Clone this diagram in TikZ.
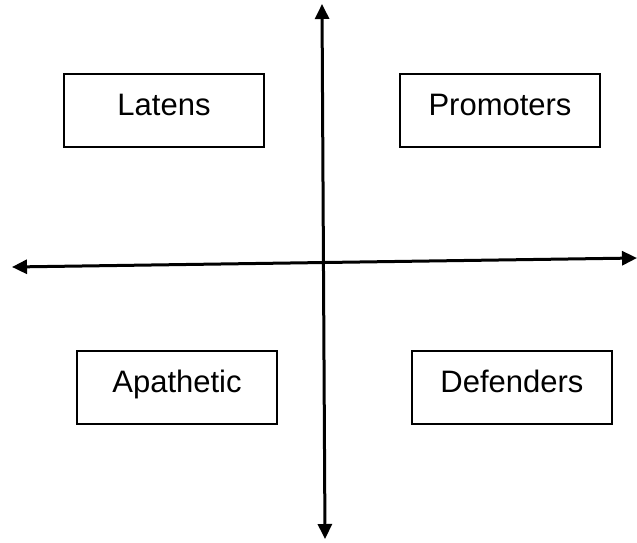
\documentclass[tikz,border=0pt]{standalone}
\usepackage{fontspec}
\setmainfont{Liberation Sans}
\usepackage{tikz}
\usetikzlibrary{arrows.meta}
\tikzset{quad/.style = {draw, line width = 1.6, minimum width = 200, inner sep = 0,
    text height = 41, text depth = 32, font = \fontsize{31}{36}\selectfont}}
\tikzset{axis/.style = {line width = 3, {Triangle[length=15, width=14]}-{Triangle[length=15, width=14]}}}

\begin{document}
\begin{tikzpicture}[x=1pt, y=-1pt]
      \useasboundingbox (0, 0) rectangle (637, 542);
      \coordinate (top) at (322, 4);
      \coordinate (bottom) at (325, 539);
      \coordinate (left) at (12, 267);
      \coordinate (right) at (637, 258);
      \draw [axis] (bottom) -- (top);
      \draw [axis] (left) -- (right);
      \foreach \name/\x/\y/\txt in {latens/164/110.5/Latens, promoters/500/110.5/Promoters,
                                    apathetic/177/387.5/Apathetic, defenders/512/387.5/Defenders} {
        \node [quad] (\name) at (\x, \y) {\txt};
      }
    \end{tikzpicture}
\end{document}
